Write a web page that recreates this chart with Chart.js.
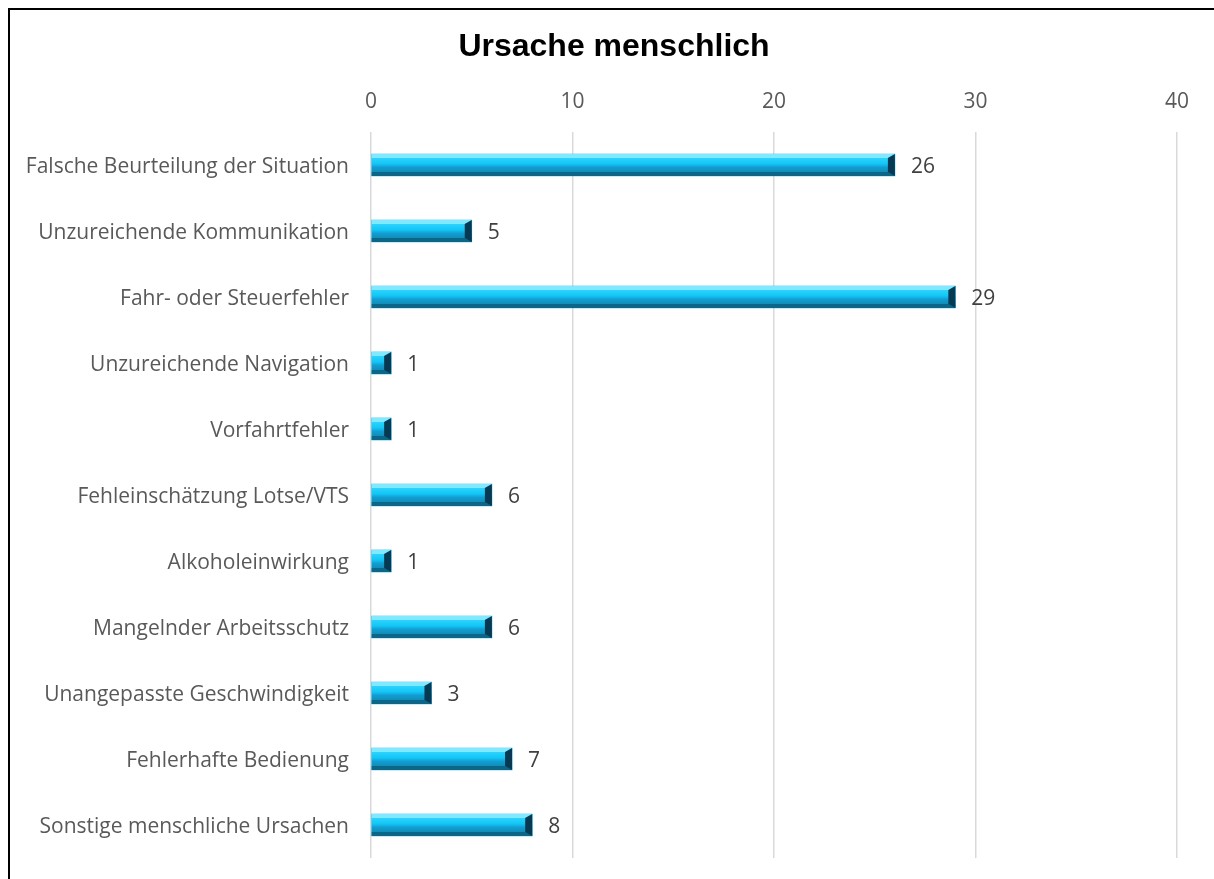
<!DOCTYPE html>
<html>
<head>
<meta charset="utf-8">
<script src="https://cdn.jsdelivr.net/npm/chart.js@4.4.1/dist/chart.umd.min.js"></script>
<style>
    html, body { margin: 0; padding: 0; background: #fff; overflow: hidden; }
    #frame {
        position: absolute; left: 8px; top: 8px; width: 1300px; height: 1000px;
        border-left: 2px solid #000; border-top: 2px solid #000;
    }
    #wrap { position: absolute; left: 0; top: 0; width: 1214px; height: 879px; }
</style>
</head>
<body>
<div id="frame"></div>
<div id="wrap"><canvas id="causeChart"></canvas></div>
<script>
// Chart data
const categories = [
    'Falsche Beurteilung der Situation',
    'Unzureichende Kommunikation',
    'Fahr- oder Steuerfehler',
    'Unzureichende Navigation',
    'Vorfahrtfehler',
    'Fehleinschätzung Lotse/VTS',
    'Alkoholeinwirkung',
    'Mangelnder Arbeitsschutz',
    'Unangepasste Geschwindigkeit',
    'Fehlerhafte Bedienung',
    'Sonstige menschliche Ursachen'
];
const counts = [26, 5, 29, 1, 1, 6, 1, 6, 3, 7, 8];
const xTicks = [0, 10, 20, 30, 40];
const chartTitle = 'Ursache menschlich';

const labelFont = "'Open Sans', sans-serif";

// title is centred on the whole frame, not on the chart area
const frameTitle = {
    id: 'frameTitle',
    afterDraw(chart) {
        const ctx = chart.ctx;
        ctx.save();
        ctx.fillStyle = '#000';
        ctx.font = "bold 32px 'Liberation Sans', Arial, sans-serif";
        ctx.textAlign = 'center';
        ctx.textBaseline = 'middle';
        ctx.fillText(chartTitle, (chart.width + 14) / 2, 47);
        ctx.restore();
    }
};

// bevel look for the bars, drawn over the bar elements
const bevelBars = {
    id: 'bevelBars',
    afterDatasetsDraw(chart) {
        const ctx = chart.ctx;
        const meta = chart.getDatasetMeta(0);
        meta.data.forEach(function(bar, i) {
            const p = bar.getProps(['x', 'y', 'base', 'height'], true);
            const L = Math.min(p.base, p.x), R = Math.max(p.base, p.x);
            const T = p.y - p.height / 2, B = p.y + p.height / 2;
            const bv = 4, bh = Math.min(7, (R - L) / 2);
            ctx.save();
            const g = ctx.createLinearGradient(0, T, 0, B);
            g.addColorStop(0, '#3fdcff');
            g.addColorStop(0.45, '#12c6f6');
            g.addColorStop(0.6, '#129ed2');
            g.addColorStop(1, '#0e7fa6');
            ctx.fillStyle = g;
            ctx.fillRect(L, T, R - L, B - T);
            function poly(pts, col) {
                ctx.beginPath();
                ctx.moveTo(pts[0][0], pts[0][1]);
                for (let k = 1; k < pts.length; k++) ctx.lineTo(pts[k][0], pts[k][1]);
                ctx.closePath();
                ctx.fillStyle = col;
                ctx.fill();
            }
            poly([[L, T], [R, T], [R - bh, T + bv], [L, T + bv]], '#80e8ff');
            poly([[L, B], [R, B], [R - bh, B - bv], [L, B - bv]], '#0b6688');
            poly([[R, T], [R - bh, T + bv], [R - bh, B - bv], [R, B]], '#073a52');
            ctx.restore();

            // value label
            ctx.save();
            ctx.fillStyle = '#404040';
            ctx.font = '21px ' + labelFont;
            ctx.textAlign = 'left';
            ctx.textBaseline = 'middle';
            ctx.fillText(String(counts[i]), R + 16, p.y + 2);
            ctx.restore();
        });
    }
};

const causeChart = new Chart(document.getElementById('causeChart'), {
    type: 'bar',
    data: {
        labels: categories,
        datasets: [{
            data: counts,
            backgroundColor: '#1ab4e4',
            borderWidth: 0,
            barThickness: 22
        }]
    },
    options: {
        indexAxis: 'y',
        responsive: true,
        maintainAspectRatio: false,
        animation: false,
        layout: { padding: { left: 0, right: 37, top: 74.4, bottom: 21 } },
        plugins: {
            legend: { display: false },
            tooltip: { enabled: false },
            title: { display: false }
        },
        scales: {
            x: {
                position: 'top',
                min: 0,
                max: 40,
                afterBuildTicks: function(scale) {
                    scale.ticks = xTicks.map(function(v) { return { value: v }; });
                },
                afterFit: function(scale) { scale.height = 57.6; },
                grid: { color: '#d9d9d9', lineWidth: 1.5, drawTicks: false },
                border: { display: false },
                ticks: { color: '#595959', padding: 17, font: { family: labelFont, size: 21 } }
            },
            y: {
                afterFit: function(scale) {
                    scale.width = 371;
                    scale.paddingTop = 0;
                    scale.paddingBottom = 0;
                },
                grid: { display: false, drawTicks: false },
                border: { display: false },
                ticks: { color: '#595959', padding: 22, labelOffset: 2, font: { family: labelFont, size: 21 } }
            }
        }
    },
    plugins: [bevelBars, frameTitle]
});
</script>
</body>
</html>
